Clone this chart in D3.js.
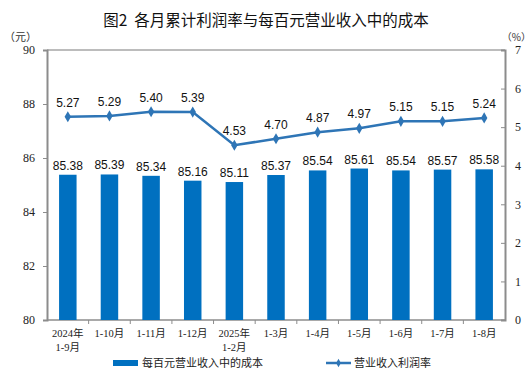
<!DOCTYPE html>
<html>
<head>
<meta charset="utf-8">
<script src="https://cdn.jsdelivr.net/npm/d3@7"></script>
<style>
    body { margin: 0; background: #fff; }
    svg { display: block; }
</style>
</head>
<body>
<div id="chart"></div>
<script>
const CATEGORIES = [
    ["2024年", "1-9月"],
    ["1-10月"],
    ["1-11月"],
    ["1-12月"],
    ["2025年", "1-2月"],
    ["1-3月"],
    ["1-4月"],
    ["1-5月"],
    ["1-6月"],
    ["1-7月"],
    ["1-8月"]
];
const COST_VALUES = [85.38, 85.39, 85.34, 85.16, 85.11, 85.37, 85.54, 85.61, 85.54, 85.57, 85.58];
const PROFIT_RATE = [5.27, 5.29, 5.40, 5.39, 4.53, 4.70, 4.87, 4.97, 5.15, 5.15, 5.24];
const LEFT_TICKS = [80, 82, 84, 86, 88, 90];
const RIGHT_TICKS = [0, 1, 2, 3, 4, 5, 6, 7];

const TITLE = "图2  各月累计利润率与每百元营业收入中的成本";
const LEGEND_BAR = "每百元营业收入中的成本";
const LEGEND_LINE = "营业收入利润率";

const width = 531, height = 388;
const margin = { top: 50, right: 26, bottom: 68, left: 47 };
const plotWidth = width - margin.left - margin.right;
const plotHeight = height - margin.top - margin.bottom;

const BAR_COLOR = "#0070c0";
const LINE_COLOR = "#2e75b6";
const AXIS_COLOR = "#8c8c8c";
const serif = "'Liberation Serif', 'Noto Sans CJK SC', serif";
const sans = "'Liberation Sans', Arial, sans-serif";
const cjk = "'Noto Sans CJK SC', sans-serif";

const svg = d3.select("#chart").append("svg")
    .attr("width", width)
    .attr("height", height);

svg.append("text")
    .attr("x", 266)
    .attr("y", 26)
    .attr("text-anchor", "middle")
    .style("white-space", "pre")
    .style("font-family", cjk)
    .style("font-size", "15.5px")
    .style("fill", "#111")
    .text(TITLE);

svg.append("text")
    .attr("x", 4).attr("y", 41)
    .style("font-family", cjk).style("font-size", "11px").style("fill", "#333")
    .text("（元）");
svg.append("text")
    .attr("x", 531).attr("y", 41)
    .attr("text-anchor", "end")
    .style("font-family", cjk).style("font-size", "10px").style("fill", "#333")
    .text("（%）");

const nullpoint = svg.append("g")
    .attr("transform", `translate(${margin.left}, ${margin.top})`);

const x = d3.scaleBand()
    .domain(d3.range(CATEGORIES.length))
    .range([0, plotWidth])
    .paddingInner(0.58)
    .paddingOuter(0.29);

const yLeft = d3.scaleLinear().domain([80, 90]).range([plotHeight, 0]);
const yRight = d3.scaleLinear().domain([0, 7]).range([plotHeight, 0]);

// frame top line
nullpoint.append("line")
    .attr("x1", 0).attr("x2", plotWidth)
    .attr("y1", 0).attr("y2", 0)
    .attr("stroke", "#a6a6a6").attr("stroke-width", 1.5);

// left axis
const leftAxis = nullpoint.append("g")
    .call(d3.axisLeft(yLeft).tickValues(LEFT_TICKS).tickSize(4).tickPadding(8));
leftAxis.select(".domain").attr("stroke", AXIS_COLOR).attr("stroke-width", 2);
leftAxis.selectAll(".tick line").attr("stroke", AXIS_COLOR);
leftAxis.selectAll("text").style("font-family", serif).style("font-size", "12px").style("fill", "#222");

// right axis, ticks inside
const rightAxis = nullpoint.append("g")
    .attr("transform", `translate(${plotWidth}, 0)`)
    .call(d3.axisRight(yRight).tickValues(RIGHT_TICKS).tickFormat(d3.format("d")).tickSize(-4).tickPadding(10));
rightAxis.select(".domain").attr("stroke", AXIS_COLOR).attr("stroke-width", 2);
rightAxis.selectAll(".tick line").attr("stroke", AXIS_COLOR);
rightAxis.selectAll("text").style("font-family", serif).style("font-size", "12px").style("fill", "#222");

// bottom axis with ticks between categories
const step = x.step();
const xAxis = nullpoint.append("g")
    .attr("transform", `translate(0, ${plotHeight})`);
xAxis.append("line")
    .attr("x1", 0).attr("x2", plotWidth)
    .attr("stroke", AXIS_COLOR).attr("stroke-width", 1.5);
xAxis.selectAll(".sep")
    .data(d3.range(1, CATEGORIES.length))
    .enter()
    .append("line")
    .attr("class", "sep")
    .attr("x1", i => x(i) - step * x.paddingInner() / 2)
    .attr("x2", i => x(i) - step * x.paddingInner() / 2)
    .attr("y1", 0).attr("y2", 4)
    .attr("stroke", AXIS_COLOR);

const catLabels = xAxis.selectAll(".cat")
    .data(CATEGORIES)
    .enter()
    .append("text")
    .attr("class", "cat")
    .attr("text-anchor", "middle")
    .attr("transform", (d, i) => `translate(${x(i) + x.bandwidth() / 2}, 17)`)
    .style("font-family", serif)
    .style("font-size", "10.5px")
    .style("fill", "#222");
catLabels.selectAll("tspan")
    .data(d => d)
    .enter()
    .append("tspan")
    .attr("x", 0)
    .attr("dy", (d, i) => i === 0 ? 0 : 14)
    .text(d => d);

// bars
nullpoint.selectAll(".bar")
    .data(COST_VALUES)
    .enter()
    .append("rect")
    .attr("class", "bar")
    .attr("x", (d, i) => x(i))
    .attr("y", d => yLeft(d))
    .attr("width", x.bandwidth())
    .attr("height", d => plotHeight - yLeft(d))
    .attr("fill", BAR_COLOR);

nullpoint.selectAll(".bar-label")
    .data(COST_VALUES)
    .enter()
    .append("text")
    .attr("class", "bar-label")
    .attr("x", (d, i) => x(i) + x.bandwidth() / 2)
    .attr("y", d => yLeft(d) - 5)
    .attr("text-anchor", "middle")
    .style("font-family", sans)
    .style("font-size", "12px")
    .style("fill", "#111")
    .text(d => d.toFixed(2));

// profit line
const line = d3.line()
    .x((d, i) => x(i) + x.bandwidth() / 2)
    .y(d => yRight(d));

nullpoint.append("path")
    .datum(PROFIT_RATE)
    .attr("fill", "none")
    .attr("stroke", LINE_COLOR)
    .attr("stroke-width", 2.5)
    .attr("d", line);

const diamond = d3.symbol().type(d3.symbolDiamond).size(36);
nullpoint.selectAll(".marker")
    .data(PROFIT_RATE)
    .enter()
    .append("path")
    .attr("class", "marker")
    .attr("transform", (d, i) => `translate(${x(i) + x.bandwidth() / 2}, ${yRight(d)})`)
    .attr("d", diamond)
    .attr("fill", LINE_COLOR);

nullpoint.selectAll(".line-label")
    .data(PROFIT_RATE)
    .enter()
    .append("text")
    .attr("class", "line-label")
    .attr("x", (d, i) => x(i) + x.bandwidth() / 2)
    .attr("y", d => yRight(d) - 10)
    .attr("text-anchor", "middle")
    .style("font-family", sans)
    .style("font-size", "12px")
    .style("fill", "#111")
    .text(d => d.toFixed(2));

// legend
const legend = svg.append("g").attr("transform", "translate(0, 363)");
legend.append("rect")
    .attr("x", 113).attr("y", -3)
    .attr("width", 25).attr("height", 6)
    .attr("fill", BAR_COLOR);
legend.append("text")
    .attr("x", 142).attr("y", 4)
    .style("font-family", cjk).style("font-size", "11px").style("fill", "#222")
    .text(LEGEND_BAR);
legend.append("line")
    .attr("x1", 326).attr("x2", 351)
    .attr("stroke", LINE_COLOR).attr("stroke-width", 2.5);
legend.append("path")
    .attr("transform", "translate(338.5, 0)")
    .attr("d", d3.symbol().type(d3.symbolDiamond).size(20))
    .attr("fill", LINE_COLOR);
legend.append("text")
    .attr("x", 354).attr("y", 4)
    .style("font-family", cjk).style("font-size", "11px").style("fill", "#222")
    .text(LEGEND_LINE);
</script>
</body>
</html>
